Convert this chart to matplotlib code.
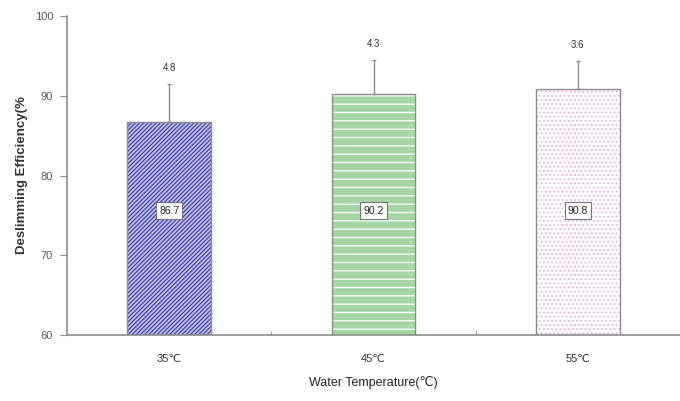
import matplotlib
matplotlib.use('Agg')
import matplotlib.pyplot as plt
import numpy as np

plt.rcParams['font.family'] = ['Liberation Sans', 'DejaVu Sans']

# data
temps = ['35℃', '45℃', '55℃']
efficiency = [86.7, 90.2, 90.8]
std_dev = [4.8, 4.3, 3.6]
yticks = [60, 70, 80, 90, 100]

face_colors = ['#c4c4ee', '#a6d6a6', '#ffffff']
hatch_colors = ['#4444b0', '#ffffff', '#e6b4e6']
hatches = ['////////', '--', '....']

fig = plt.figure(figsize=(6.8, 4.01), dpi=100)
ax = fig.add_axes([67 / 680, 1 - 335 / 401, 1 - 67 / 680, (335 - 16) / 401])

x = np.arange(len(temps))
gray = '#8c8c8c'

for i in range(len(temps)):
    # hatch layer first, then the plain gray outline on top
    with plt.rc_context({'hatch.linewidth': 0.9}):
        ax.bar(x[i], efficiency[i], width=0.41, bottom=0, color=face_colors[i],
               edgecolor=hatch_colors[i], hatch=hatches[i], linewidth=0, zorder=2)
    ax.bar(x[i], efficiency[i], width=0.41, fill=False, edgecolor=gray,
           linewidth=1.0, zorder=3)

ax.errorbar(x, efficiency, yerr=[np.zeros(len(std_dev)), std_dev], fmt='none',
            ecolor=gray, elinewidth=1.0, capsize=1.5, capthick=1.0, zorder=4)

for xi, m, s in zip(x, efficiency, std_dev):
    ax.annotate(f'{s}', (xi, m + s), xytext=(0, 8), textcoords='offset points',
                ha='center', va='bottom', fontsize=7, color='#333333')
    ax.text(xi, 75.6, f'{m}', ha='center', va='center', fontsize=7.5, color='#222222',
            bbox=dict(boxstyle='square,pad=0.3', fc='white', ec='#777777', lw=0.8),
            zorder=5)

ax.set_ylim(60, 100)
ax.set_xlim(-0.5, 2.5)
ax.set_yticks(yticks)
ax.set_xticks(x)
ax.set_xticklabels(temps)
ax.set_xticks([0.5, 1.5], minor=True)
ax.tick_params(axis='x', which='major', length=0, pad=14, labelsize=8, labelcolor='#333333')
ax.tick_params(axis='x', which='minor', direction='in', length=3, color=gray)
ax.tick_params(axis='y', direction='out', length=5, color=gray, labelsize=8,
               labelcolor='#555555', pad=5)

for side in ['top', 'right']:
    ax.spines[side].set_visible(False)
for side in ['left', 'bottom']:
    ax.spines[side].set_color(gray)
    ax.spines[side].set_linewidth(1.2)

ax.set_xlabel('Water Temperature(℃)', fontsize=9, color='#222222', labelpad=8)
ax.set_ylabel('Deslimming Efficiency(%', fontsize=9.5, fontweight='bold',
              color='#333333', labelpad=5)

fig.savefig('out.png', dpi=100)
